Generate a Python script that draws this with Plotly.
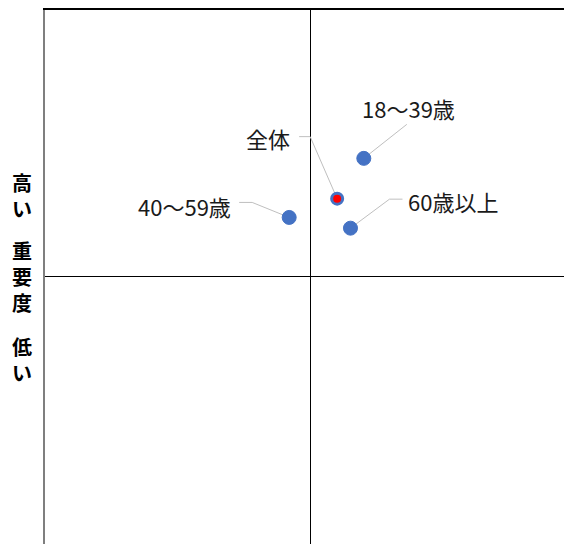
import plotly.graph_objects as go

# Data (x: satisfaction deviation, y: importance deviation)
groups = ["18〜39歳", "全体", "40〜59歳", "60歳以上"]
x_vals = [0.20, 0.10, -0.08, 0.15]
y_vals = [0.44, 0.29, 0.22, 0.18]
y_title_groups = ["高い", "重要度", "低い"]

# Layout geometry (page has an 8px body margin)
PAGE_OFF = 8
W, H = 572 - PAGE_OFF, 544 - PAGE_OFF
ML, MT = 45 - PAGE_OFF, 2
PW, PH = W - ML, H - MT
CX, CY = 310.5, 276.5          # page pixel position of the quadrant centre
PX_X = 266.5                   # pixels per x unit
PX_Y = 268.5                   # pixels per y unit
x_range = [-(CX - 45) / PX_X, (572 - CX) / PX_X]
y_range = [-(544 - CY) / PX_Y, (CY - PAGE_OFF - MT) / PX_Y]

# label / leader line pixel offsets relative to points
label_style = {
    "18〜39歳": dict(path=[(43, -34)], text=(45, -50), anchor="center"),
    "全体": dict(path=[(-27, -62), (-38, -62)], text=(-45, -61), anchor="right"),
    "40〜59歳": dict(path=[(-37, -15), (-50, -15)], text=(-56, -11), anchor="right"),
    "60歳以上": dict(path=[(39, -29), (52, -29)], text=(56, -27), anchor="left"),
}
title_group_y = [195, 276, 359.5]   # page pixels
title_x = 22

FONT = "Noto Sans CJK JP, Noto Sans, sans-serif"
fig = go.Figure()

for g, x, y in zip(groups, x_vals, y_vals):
    st = label_style[g]
    xs = [x] + [x + dx / PX_X for dx, dy in st["path"]]
    ys = [y] + [y - dy / PX_Y for dx, dy in st["path"]]
    fig.add_trace(go.Scatter(x=xs, y=ys, mode="lines",
                             line=dict(color="#bfbfbf", width=1),
                             hoverinfo="skip", showlegend=False))

colors = ["#ff0000" if g == "全体" else "#4472c4" for g in groups]
sizes = [11 if g == "全体" else 14 for g in groups]
lw = [3 if g == "全体" else 1 for g in groups]
fig.add_trace(go.Scatter(
    x=x_vals, y=y_vals, mode="markers", text=groups,
    marker=dict(color=colors, size=sizes, opacity=1,
                line=dict(color="#4472c4", width=lw)),
    showlegend=False))

for g, x, y in zip(groups, x_vals, y_vals):
    st = label_style[g]
    dx, dy = st["text"]
    fig.add_annotation(x=x, y=y, xref="x", yref="y", text=g, showarrow=False,
                       xshift=dx, yshift=-dy, xanchor=st["anchor"], yanchor="middle",
                       font=dict(family=FONT, size=22, color="#1a1a1a"))

for grp, py in zip(y_title_groups, title_group_y):
    fx = title_x - PAGE_OFF
    fy = py - PAGE_OFF
    fig.add_annotation(x=(fx - ML) / PW, y=1 - (fy - MT) / PH,
                       xref="paper", yref="paper",
                       text="<br>".join("<b>" + c + "</b>" for c in grp),
                       showarrow=False, xanchor="center", yanchor="middle",
                       font=dict(family=FONT, size=20, color="#000000"))

fig.update_layout(
    width=W, height=H,
    margin=dict(l=ML, r=0, t=MT, b=0, pad=0),
    paper_bgcolor="white", plot_bgcolor="white",
    xaxis=dict(range=x_range, showgrid=False, showticklabels=False, ticks="",
               zeroline=True, zerolinecolor="#000000", zerolinewidth=1,
               side="top", showline=True, linecolor="#000000", linewidth=2,
               mirror=False, fixedrange=True),
    yaxis=dict(range=y_range, showgrid=False, showticklabels=False, ticks="",
               zeroline=True, zerolinecolor="#000000", zerolinewidth=1,
               showline=True, linecolor="#7f7f7f", linewidth=2,
               mirror=False, fixedrange=True),
)

fig.write_html("out.html")
